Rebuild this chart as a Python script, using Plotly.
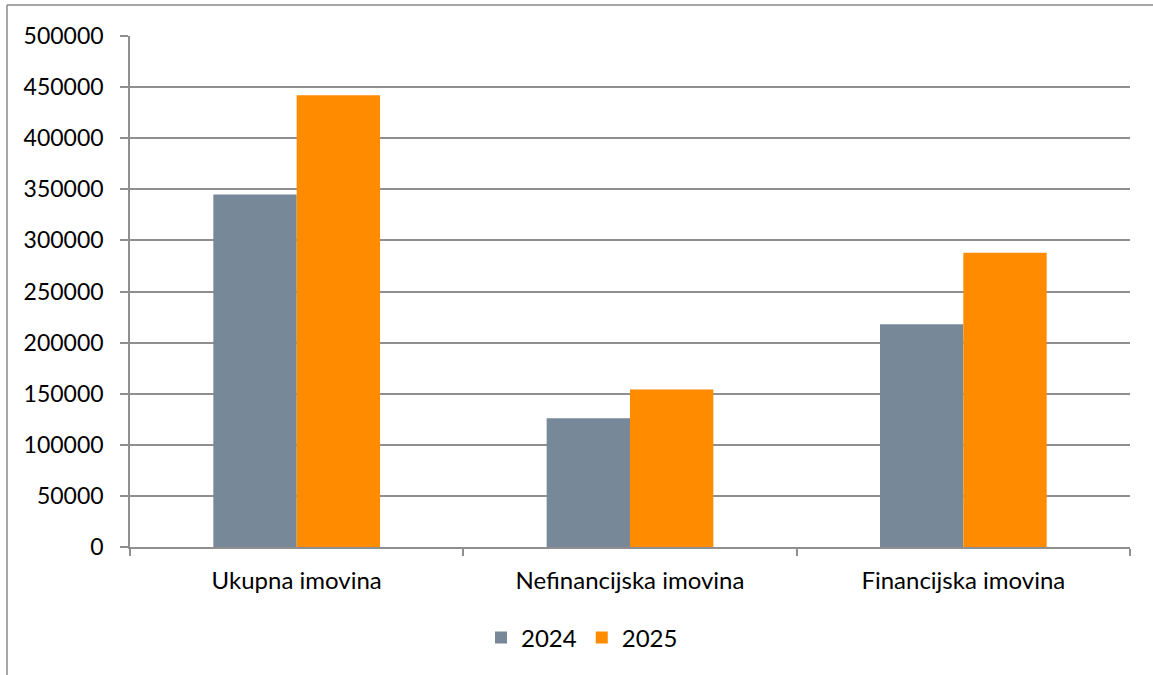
import plotly.graph_objects as go

categories = ["Ukupna imovina", "Nefinancijska imovina", "Financijska imovina"]
series_names = ["2024", "2025"]
values_2024 = [345000, 126000, 218000]
values_2025 = [442000, 154000, 288000]
y_ticks = [0, 50000, 100000, 150000, 200000, 250000, 300000, 350000, 400000, 450000, 500000]

colors = ["#778899", "#FF8C00"]
FONT = "Lato, Carlito, Calibri, sans-serif"

fig = go.Figure()
for name, vals, col in zip(series_names, [values_2024, values_2025], colors):
    fig.add_trace(go.Bar(
        x=categories, y=vals, name=name,
        marker=dict(color=col, line=dict(width=0)),
    ))

W, H = 1153, 675
L, R, T, B = 130, 23, 36, 128
pw, ph = W - L - R, H - T - B

def px_x(p):
    return (p - L) / pw

def px_y(p):
    return (H - B - p) / ph

grid_col = "#8f8f8f"

fig.update_layout(
    width=W, height=H,
    margin=dict(l=L, r=R, t=T, b=B, pad=0),
    paper_bgcolor="white", plot_bgcolor="white",
    barmode="group", bargap=0.5, bargroupgap=0,
    font=dict(family=FONT, size=24, color="#000000"),
    showlegend=True,
    legend=dict(
        orientation="h", x=px_x(582), xanchor="center", y=px_y(638), yanchor="middle",
        font=dict(family=FONT, size=24, color="#000000"),
        itemwidth=30, traceorder="normal",
    ),
    xaxis=dict(
        showgrid=False, showline=True, linecolor=grid_col, linewidth=1.5,
        ticks="outside", tickson="boundaries", ticklen=7, tickcolor=grid_col, tickwidth=1.5,
        ticklabelstandoff=11,
        tickfont=dict(family=FONT, size=24, color="#000000"),
        fixedrange=True,
    ),
    yaxis=dict(
        range=[0, 500000], tickvals=y_ticks, ticktext=[str(v) for v in y_ticks],
        showgrid=True, gridcolor=grid_col, gridwidth=1.5,
        showline=True, linecolor=grid_col, linewidth=1.5,
        zeroline=False,
        ticks="outside", ticklen=8, tickcolor=grid_col, tickwidth=1.5,
        ticklabelstandoff=12,
        tickfont=dict(family=FONT, size=23, color="#000000"),
        fixedrange=True,
    ),
    shapes=[
        dict(type="line", xref="paper", yref="paper",
             x0=px_x(7), x1=px_x(7), y0=px_y(5), y1=px_y(H), line=dict(color="#8a8a8a", width=1.5)),
        dict(type="line", xref="paper", yref="paper",
             x0=px_x(7), x1=px_x(W), y0=px_y(5), y1=px_y(5), line=dict(color="#8a8a8a", width=1.5)),
    ],
)

fig.write_html(
    "out.html",
    config={"displayModeBar": False},
    post_script="document.body.style.margin='0';document.body.style.overflow='hidden';",
)
